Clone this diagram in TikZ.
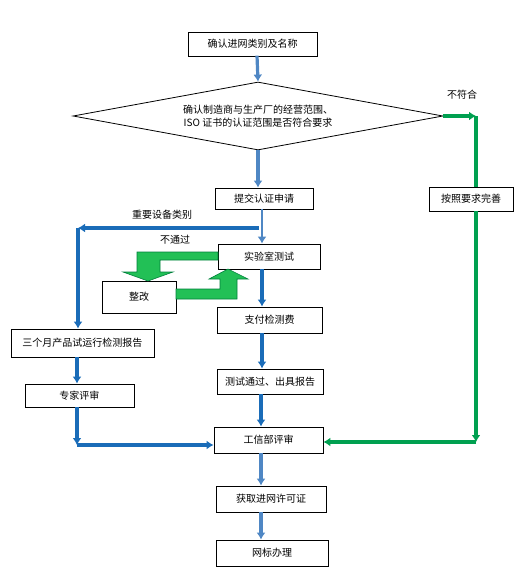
\documentclass[tikz,border=0pt]{standalone}
\usepackage{fontspec}
\setmainfont{Noto Sans CJK SC}
\usepackage{xcolor}
\usetikzlibrary{arrows.meta}
\usetikzlibrary{shapes.geometric}
\definecolor{lblue}{RGB}{79,135,196}
\definecolor{dblue}{RGB}{26,108,184}
\definecolor{fgreen}{RGB}{0,160,80}
\definecolor{bgreen}{RGB}{34,192,86}
\definecolor{egreen}{RGB}{0,128,60}

\begin{document}
\begin{tikzpicture}[x=1pt,y=-1pt]
\tikzset{>={Latex[width=9pt,length=7pt]}}
\tikzstyle{box} =[rectangle, draw = black, line width=0.8pt, inner sep=0pt, font=\fontsize{10}{13}\selectfont]
\tikzstyle{lbl} =[inner sep=0pt, font=\fontsize{10}{13}\selectfont]
\tikzstyle{lflow} =[->, draw=lblue, line width=3.2pt]
\tikzstyle{dflow} =[->, draw=dblue, line width=3.6pt]
\tikzstyle{gflow} =[->, draw=fgreen, line width=4pt]
\tikzstyle{loop} =[fill=bgreen, draw=egreen, line width=0.6pt]
\useasboundingbox (0,0) rectangle (528,587);

\node[box, minimum width=129pt, minimum height=24pt](b1) at (252.5,44){确认进网类别及名称};
\node[box, shape=diamond, shape aspect=5.4, minimum width=370pt, minimum height=68pt, align=center](d1) at (258,116){确认制造商与生产厂的经营范围、\\ISO 证书的认证范围是否符合要求};
\node[box, minimum width=98pt, minimum height=21pt](b2) at (264,198.5){提交认证申请};
\node[box, minimum width=84pt, minimum height=24pt](b3) at (471,199){按照要求完善};
\node[box, minimum width=102pt, minimum height=25pt](b4) at (269,256.5){实验室测试};
\node[box, minimum width=74pt, minimum height=32pt](b5) at (139,297){整改};
\node[box, minimum width=105pt, minimum height=26pt](b6) at (269.5,320){支付检测费};
\node[box, minimum width=106pt, minimum height=25pt](b7) at (270,381.5){测试通过、出具报告};
\node[box, minimum width=143pt, minimum height=28pt](b8) at (82.5,343){三个月产品试运行检测报告};
\node[box, minimum width=109pt, minimum height=23pt](b9) at (79.5,395.5){专家评审};
\node[box, minimum width=109pt, minimum height=26pt](b10) at (268.5,440){工信部评审};
\node[box, minimum width=110pt, minimum height=26pt](b11) at (271,499){获取进网许可证};
\node[box, minimum width=112pt, minimum height=26pt](b12) at (272,553){网标办理};

\node[lbl](t1) at (462,95){不符合};
\node[lbl](t2) at (162,215){重要设备类别};
\node[lbl](t3) at (175,240){不通过};

\coordinate (c1) at (259,228);
\coordinate (c2) at (78,228);
\coordinate (c3) at (77,445);
\coordinate (c4) at (476,116);
\coordinate (c5) at (476,442);

% main line
\draw [lflow] (d1.north -| 257,0) ++(0,-26) -- (d1.north);
\draw [lflow] (d1.south) -- (b2.north -| d1.south);
\draw [lflow, line width=2.4pt] (b2.south -| 262,0) -- (b4.north -| 262,0);
\draw [dflow] (b4.south -| 262,0) -- (b6.north -| 262,0);
\draw [dflow] (b6.south -| 262,0) -- (b7.north -| 262,0);
\draw [dflow] (b7.south -| 261,0) -- (b10.north -| 261,0);
\draw [lflow] (b10.south -| 261,0) -- (b11.north -| 261,0);
\draw [lflow] (b11.south -| 261,0) -- (b12.north -| 261,0);

% important equipment branch
\draw [dflow] (c1) -- (c2);
\draw [dflow] (c2) -- (b8.north -| c2);
\draw [dflow] (b8.south -| c3) -- (b9.north -| c3);
\draw [dflow] (b9.south -| c3) -- (c3);
\draw [dflow] (c3) -- (b10.west |- c3);

% not conforming branch
\draw [gflow, line width=3.4pt] (d1.east) -- (c4);
\draw [gflow, -] (c4) -- (b3.north -| c4);
\draw [gflow] (b3.south -| c4) -- (c5);
\draw [gflow] (c5) -- (b10.east |- c5);

% rework loop
\draw [loop] (218,252) -- (137,252) -- (137,272) -- (123,272) -- (148,281) -- (173,272) -- (160,272) -- (160,260) -- (218,260) -- cycle;
\draw [loop] (176,289) -- (220,289) -- (220,279) -- (209,279) -- (228,269) -- (248,279) -- (237,279) -- (237,299) -- (176,299) -- cycle;
\end{tikzpicture}
\end{document}
